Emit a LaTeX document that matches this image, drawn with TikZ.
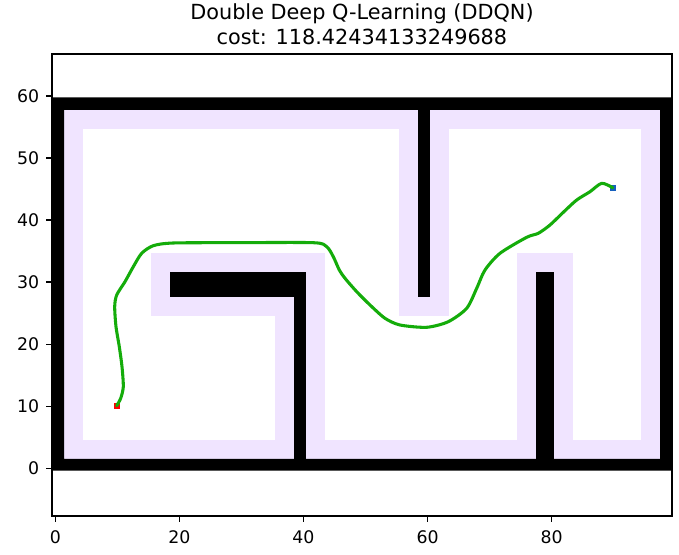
\documentclass[tikz,border=0pt]{standalone}
\usepackage{fontspec}
\setmainfont{DejaVu Sans}
\definecolor{lav}{RGB}{240,228,255}
\definecolor{pathgreen}{RGB}{20,172,10}
\definecolor{goalblue}{RGB}{22,96,190}
\tikzset{
  inflated/.style={fill=lav, draw=none},
  wall/.style={fill=black, draw=none},
  ticklbl/.style={inner sep=0pt, font=\fontsize{13}{15}\selectfont},
  tickmark/.style={line width=1pt},
  marker/.style={rectangle, minimum size=4.5pt, inner sep=0pt, draw=none},
  titlefont/.style={inner sep=0pt, anchor=base, font=\fontsize{15.6}{18}\selectfont},
}
\begin{document}
\begin{tikzpicture}[x=0.75pt,y=-0.75pt]
\useasboundingbox (0,0) rectangle (679,555);
\fill[white] (0,0) rectangle (679,555);
% inflated (lavender) zones
\fill[inflated] (64,110) rectangle (660,129);
\fill[inflated] (64,440) rectangle (660,459);
\fill[inflated] (64,110) rectangle (83,459);
\fill[inflated] (641,110) rectangle (660,459);
\fill[inflated] (399,110) rectangle (449,316);
\fill[inflated] (151,253) rectangle (325,316);
\fill[inflated] (275,253) rectangle (325,459);
\fill[inflated] (517,253) rectangle (573,459);
% walls
\fill[wall,even odd rule] (52,97.3) rectangle (672,470.7) (64,110) rectangle (660,459);
\fill[wall] (418,105) rectangle (430,296.7);
\fill[wall] (170,272) rectangle (306,296.7);
\fill[wall] (294,272) rectangle (306,462);
\fill[wall] (536,272) rectangle (554,462);
% start / goal markers
\node[marker, fill=red] (start) at (116.7,405.7) {};
\node[marker, fill=goalblue] (goal) at (612.7,187.7) {};
% path
\draw[pathgreen, line width=2.3pt, line join=round, line cap=round]
  plot[smooth, tension=0.45] coordinates {
  (116.7,405.7) (120.7,398.3) (123.3,386.7) (122,366.7) (119.3,346.7) (116,326.7)
  (114.7,306.7) (116.7,295) (125,281.7) (133.3,266.7) (141.7,253.3) (153.3,245.7)
  (173.3,243) (233,242.7) (313.3,242.7) (326.7,246.7) (333.3,256.7) (339.3,270)
  (345,278.3) (356.7,291.7) (370,305) (385,318.3) (400,325) (426.7,327.3)
  (448.3,321.7) (466.7,308.3) (476.7,288.3) (485,270) (500,253.3) (526.7,237.3)
  (538.3,233.3) (550,225) (563.3,212.3) (576.7,200) (590,191.7) (601.7,183.3)
  (612.7,187.7)};
% axes frame
\draw[line width=1pt] (52,54) rectangle (672,516);
% x ticks
\foreach \v/\px in {0/55.3,20/179.4,40/303.5,60/427.6,80/551.7}{
  \draw[tickmark] (\px,516) -- (\px,522);
  \node[ticklbl, anchor=north] (xt\v) at (\px,530) {\v};
}
% y ticks
\foreach \v/\py in {0/468.3,10/406.2,20/344.2,30/282.1,40/220.1,50/158.0,60/96.0}{
  \draw[tickmark] (46,\py) -- (52,\py);
  \node[ticklbl, anchor=east] (yt\v) at (39.5,\py) {\v};
}
% title
\node[titlefont] (title1) at (362,20) {Double Deep Q-Learning (DDQN)};
\node[titlefont] (title2) at (362,44.5) {cost: 118.42434133249688};
\end{tikzpicture}
\end{document}
